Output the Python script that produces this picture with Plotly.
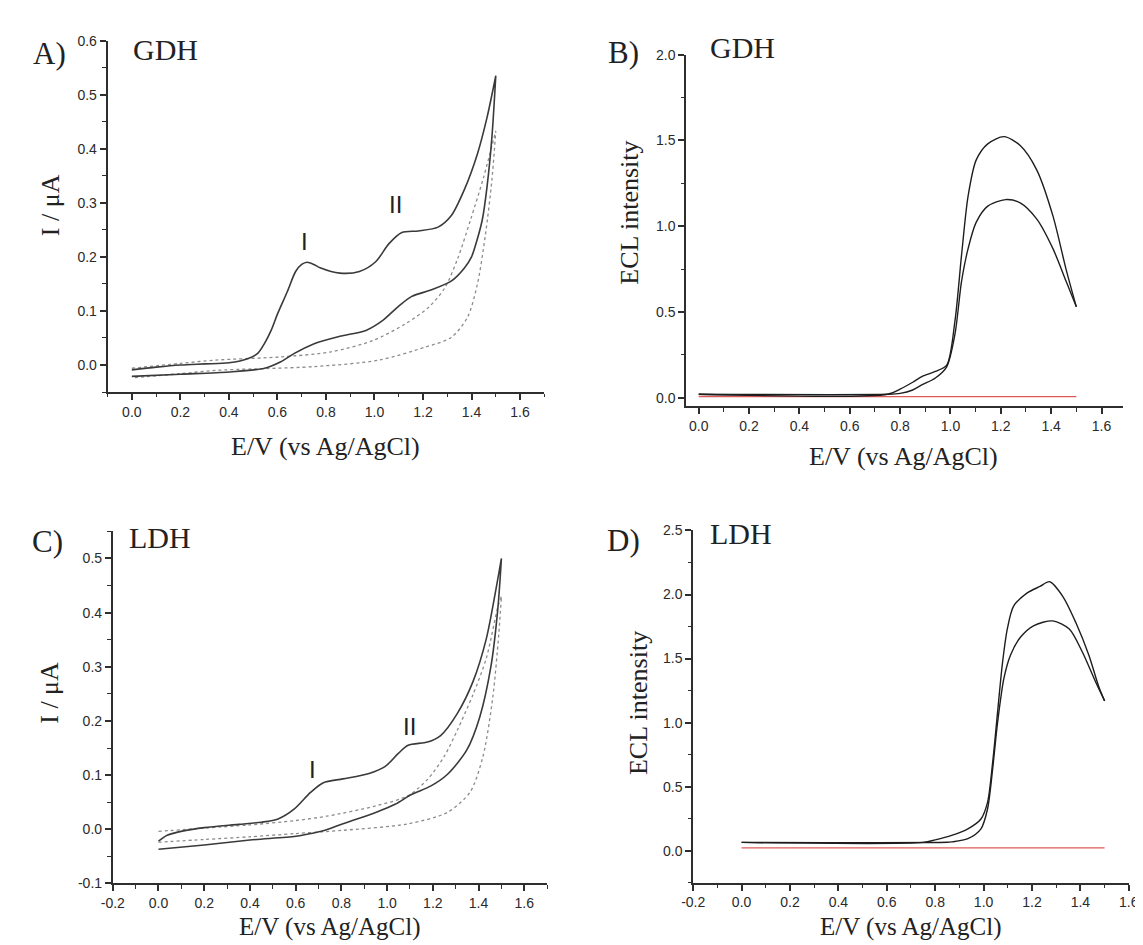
import plotly.graph_objects as go

# ---------------- data ----------------
# Panel A (GDH, cyclic voltammetry)
A_fwd_E = [0.0, 0.1, 0.2, 0.3, 0.4, 0.48, 0.52, 0.547, 0.575, 0.6, 0.641, 0.675, 0.7, 0.722, 0.75, 0.776,
           0.857, 0.938, 1.005, 1.059, 1.113, 1.181, 1.262, 1.316, 1.37, 1.424, 1.464, 1.5]
A_fwd_I = [-0.009, -0.004, 0.0, 0.002, 0.004, 0.012, 0.022, 0.04, 0.065, 0.094, 0.136, 0.173, 0.186, 0.19,
           0.186, 0.18, 0.17, 0.173, 0.191, 0.224, 0.245, 0.248, 0.255, 0.276, 0.324, 0.39, 0.458, 0.535]
A_rev_E = [1.5, 1.484, 1.464, 1.445, 1.424, 1.4, 1.37, 1.316, 1.235, 1.154, 1.1, 1.033, 0.965, 0.857, 0.749,
           0.668, 0.614, 0.547, 0.4, 0.2, 0.0]
A_rev_I = [0.535, 0.421, 0.33, 0.27, 0.233, 0.2, 0.179, 0.155, 0.139, 0.127, 0.109, 0.082, 0.064, 0.053, 0.039,
           0.021, 0.006, -0.006, -0.013, -0.017, -0.021]
A_bgf_E = [0.0, 0.2, 0.344, 0.614, 0.817, 0.992, 1.127, 1.221, 1.289, 1.343, 1.397, 1.451, 1.5]
A_bgf_I = [-0.006, 0.003, 0.009, 0.015, 0.024, 0.045, 0.076, 0.106, 0.142, 0.197, 0.27, 0.349, 0.433]
A_bgr_E = [1.5, 1.484, 1.457, 1.424, 1.383, 1.316, 1.208, 1.019, 0.749, 0.344, 0.2, 0.0]
A_bgr_I = [0.433, 0.342, 0.24, 0.149, 0.088, 0.051, 0.033, 0.009, -0.003, -0.01, -0.016, -0.024]

# Panel B (GDH, ECL)
B_up_E = [0.0, 0.75, 0.8, 0.85, 0.888, 0.94, 0.985, 1.018, 1.044, 1.07, 1.102, 1.148, 1.213, 1.277, 1.343,
          1.407, 1.459, 1.5]
B_up_I = [0.02, 0.02, 0.05, 0.09, 0.124, 0.153, 0.19, 0.449, 0.831, 1.175, 1.385, 1.48, 1.522, 1.47, 1.327,
          1.06, 0.75, 0.53]
B_lo_E = [0.0, 0.75, 0.8, 0.85, 0.888, 0.94, 0.985, 1.018, 1.044, 1.07, 1.102, 1.148, 1.219, 1.277, 1.343,
          1.407, 1.459, 1.5]
B_lo_I = [0.02, 0.02, 0.025, 0.045, 0.076, 0.115, 0.18, 0.372, 0.678, 0.869, 1.022, 1.117, 1.155, 1.136,
          1.041, 0.869, 0.68, 0.53]
B_red_E = [0.0, 1.5]
B_red_I = [0.007, 0.006]

# Panel C (LDH, cyclic voltammetry)
C_fwd_E = [0.0, 0.038, 0.109, 0.2, 0.35, 0.45, 0.523, 0.593, 0.665, 0.721, 0.807, 0.921, 0.992, 1.049, 1.092,
           1.177, 1.234, 1.306, 1.376, 1.434, 1.476, 1.5]
C_fwd_I = [-0.022, -0.011, -0.003, 0.003, 0.009, 0.013, 0.019, 0.037, 0.068, 0.086, 0.093, 0.103, 0.116, 0.14,
           0.155, 0.161, 0.173, 0.213, 0.273, 0.352, 0.443, 0.5]
C_rev_E = [1.5, 1.484, 1.455, 1.405, 1.348, 1.263, 1.192, 1.106, 1.035, 0.95, 0.807, 0.72, 0.665, 0.6, 0.4,
           0.2, 0.0]
C_rev_I = [0.5, 0.406, 0.303, 0.207, 0.146, 0.101, 0.08, 0.064, 0.046, 0.031, 0.01, -0.003, -0.008, -0.013,
           -0.02, -0.029, -0.037]
C_bgf_E = [0.0, 0.2, 0.4, 0.6, 0.735, 0.95, 1.092, 1.177, 1.249, 1.306, 1.376, 1.434, 1.484, 1.5]
C_bgf_I = [-0.004, 0.002, 0.008, 0.016, 0.024, 0.043, 0.062, 0.092, 0.134, 0.182, 0.249, 0.316, 0.41, 0.43]
C_bgr_E = [1.5, 1.488, 1.462, 1.419, 1.362, 1.263, 1.092, 0.807, 0.6, 0.4, 0.2, 0.0]
C_bgr_I = [0.43, 0.358, 0.243, 0.134, 0.068, 0.031, 0.01, -0.002, -0.008, -0.014, -0.019, -0.024]

# Panel D (LDH, ECL)
D_up_E = [0.0, 0.75, 0.8, 0.868, 0.935, 0.989, 1.016, 1.037, 1.057, 1.077, 1.098, 1.124, 1.179, 1.233, 1.273,
          1.327, 1.381, 1.435, 1.476, 1.5]
D_up_I = [0.065, 0.065, 0.085, 0.12, 0.171, 0.248, 0.376, 0.683, 1.066, 1.449, 1.731, 1.909, 2.011, 2.063, 2.1,
          1.986, 1.781, 1.526, 1.28, 1.17]
D_lo_E = [0.0, 0.85, 0.868, 0.935, 0.989, 1.016, 1.037, 1.057, 1.084, 1.111, 1.152, 1.206, 1.286, 1.354, 1.408,
          1.462, 1.5]
D_lo_I = [0.065, 0.066, 0.069, 0.094, 0.171, 0.324, 0.631, 0.989, 1.347, 1.526, 1.666, 1.756, 1.794, 1.731,
          1.551, 1.321, 1.17]
D_red_E = [0.0, 1.5]
D_red_I = [0.023, 0.023]

# tick values
A_xticks = [0.0, 0.2, 0.4, 0.6, 0.8, 1.0, 1.2, 1.4, 1.6]
A_yticks = [0.0, 0.1, 0.2, 0.3, 0.4, 0.5, 0.6]
B_xticks = [0.0, 0.2, 0.4, 0.6, 0.8, 1.0, 1.2, 1.4, 1.6]
B_yticks = [0.0, 0.5, 1.0, 1.5, 2.0]
C_xticks = [-0.2, 0.0, 0.2, 0.4, 0.6, 0.8, 1.0, 1.2, 1.4, 1.6]
C_yticks = [-0.1, 0.0, 0.1, 0.2, 0.3, 0.4, 0.5]
D_xticks = [-0.2, 0.0, 0.2, 0.4, 0.6, 0.8, 1.0, 1.2, 1.4, 1.6]
D_yticks = [0.0, 0.5, 1.0, 1.5, 2.0, 2.5]

# ---------------- figure ----------------
W, H = 1143, 945
SERIF = "Liberation Serif, Times New Roman, serif"
SANS = "Liberation Sans, Arial, sans-serif"
AX = "#2e2e2e"


def fx(px):
    return px / W


def fy(py):
    return 1 - py / H


def axis(dom, rng, ticks, minor_dtick, anchor):
    return dict(
        domain=dom, range=rng, anchor=anchor,
        tickmode="array", tickvals=ticks, ticktext=[f"{v:.1f}" for v in ticks],
        showline=True, linecolor=AX, linewidth=1.8, mirror=False,
        ticks="outside", ticklen=6, tickwidth=1.5, tickcolor=AX,
        minor=dict(tickmode="linear", tick0=0, dtick=minor_dtick, ticks="outside",
                   ticklen=3.5, tickwidth=1.3, tickcolor=AX, showgrid=False),
        showgrid=False, zeroline=False,
        tickfont=dict(family=SANS, size=14, color="#2a2a2a"),
    )


fig = go.Figure()

solid = dict(color="#3a3a3a", width=1.6)
dashed = dict(color="#8c8c8c", width=1.3, dash="dot")
ecl = dict(color="#1e1e1e", width=1.4)
red = dict(color="#de5a5a", width=1.3)


def add(x, y, line, xa, ya):
    fig.add_trace(go.Scatter(x=x, y=y, mode="lines", line=dict(shape="spline", smoothing=0.8, **line),
                             xaxis=xa, yaxis=ya, showlegend=False, hoverinfo="skip"))


# A
add(A_bgf_E + A_bgr_E, A_bgf_I + A_bgr_I, dashed, "x", "y")
add(A_fwd_E + A_rev_E, A_fwd_I + A_rev_I, solid, "x", "y")
# B
add(B_red_E, B_red_I, red, "x2", "y2")
add(B_lo_E, B_lo_I, ecl, "x2", "y2")
add(B_up_E, B_up_I, ecl, "x2", "y2")
# C
add(C_bgf_E + C_bgr_E, C_bgf_I + C_bgr_I, dashed, "x3", "y3")
add(C_fwd_E + C_rev_E, C_fwd_I + C_rev_I, solid, "x3", "y3")
# D
add(D_red_E, D_red_I, red, "x4", "y4")
add(D_lo_E, D_lo_I, ecl, "x4", "y4")
add(D_up_E, D_up_I, ecl, "x4", "y4")

fig.update_layout(
    width=W, height=H, autosize=False,
    margin=dict(l=0, r=0, t=0, b=0),
    paper_bgcolor="white", plot_bgcolor="white",
    xaxis=axis([fx(89.3), fx(534.6)], [-0.1, 1.7], A_xticks, 0.1, "y"),
    yaxis=axis([fy(382.5), fy(25)], [-0.05, 0.6001], A_yticks, 0.05, "x"),
    xaxis2=axis([fx(679.2), fx(1124.3)], [-0.05, 1.684], B_xticks, 0.1, "y2"),
    yaxis2=axis([fy(397), fy(39.3)], [-0.05, 2.0001], B_yticks, 0.25, "x2"),
    xaxis3=axis([fx(94.6), fx(537.5)], [-0.2, 1.7], C_xticks, 0.1, "y3"),
    yaxis3=axis([fy(882.3), fy(524.3)], [-0.1, 0.55], C_yticks, 0.05, "x3"),
    xaxis4=axis([fx(686.4), fx(1130.6)], [-0.2, 1.6001], D_xticks, 0.1, "y4"),
    yaxis4=axis([fy(881.7), fy(523.3)], [-0.25, 2.5001], D_yticks, 0.25, "x4"),
)

ann = []


def text(s, px, py, size, family=SERIF, xanchor="center", angle=0, color="#222222"):
    ann.append(dict(text=s, x=fx(px), y=fy(py), xref="paper", yref="paper", xanchor=xanchor,
                    yanchor="middle", showarrow=False, textangle=angle,
                    font=dict(family=family, size=size, color=color)))


# panel letters and enzyme names
text("A)", 11, 38, 31, xanchor="left")
text("GDH", 113, 34, 30, xanchor="left")
text("B)", 598, 37, 31, xanchor="left")
text("GDH", 701, 32, 30, xanchor="left")
text("C)", 10, 535, 31, xanchor="left")
text("LDH", 109, 530, 30, xanchor="left")
text("D)", 596, 534, 31, xanchor="left")
text("LDH", 701, 526, 30, xanchor="left")

# axis titles
XT = "E/V (vs Ag/AgCl)"
text("I / μA", 31, 192, 26, angle=-90)
text(XT, 312, 438, 26)
text("ECL intensity", 622, 200, 26, angle=-90)
text(XT, 901, 448, 26)
text("I / μA", 30, 688, 26, angle=-90)
text(XT, 316, 927, 25)
text("ECL intensity", 630, 699, 26, angle=-90)
text(XT, 908, 927, 25)

# peak labels (data coordinates)
for s, x, y, xr, yr in [("I", 0.712, 0.229, "x", "y"), ("II", 1.085, 0.296, "x", "y"),
                        ("I", 0.675, 0.11, "x3", "y3"), ("II", 1.097, 0.19, "x3", "y3")]:
    ann.append(dict(text=s, x=x, y=y, xref=xr, yref=yr, showarrow=False, xanchor="center", yanchor="middle",
                    font=dict(family=SANS, size=24, color="#222222")))

fig.update_layout(annotations=ann)
fig.write_html("out.html")
